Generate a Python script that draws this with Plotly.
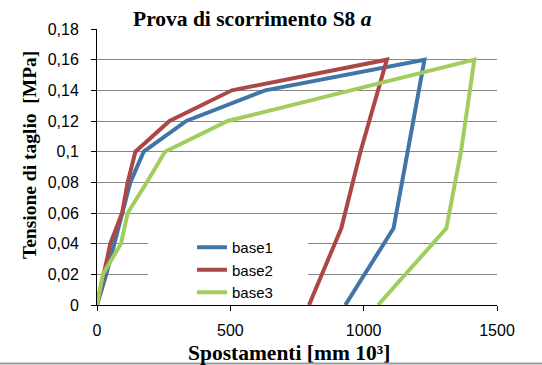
import plotly.graph_objects as go

# ---- data ----
base1_x = [0, 35, 65, 95, 125, 175, 335, 631, 1228, 1165, 1112, 931]
base1_y = [0, 0.02, 0.04, 0.06, 0.08, 0.10, 0.12, 0.14, 0.16, 0.10, 0.05, 0]

base2_x = [0, 25, 50, 94, 115, 144, 272, 506, 1087, 988, 916, 795]
base2_y = [0, 0.02, 0.04, 0.06, 0.08, 0.10, 0.12, 0.14, 0.16, 0.10, 0.05, 0]

base3_x = [0, 22, 90, 115, 187, 255, 490, 1415, 1365, 1310, 1054]
base3_y = [0, 0.02, 0.04, 0.06, 0.08, 0.10, 0.12, 0.16, 0.10, 0.05, 0]

series_names = ["base1", "base2", "base3"]
series_colors = ["#4175A8", "#AB4845", "#A0CD5E"]

x_ticks = [0, 500, 1000, 1500]
x_tick_labels = ["0", "500", "1000", "1500"]
y_ticks = [0, 0.02, 0.04, 0.06, 0.08, 0.10, 0.12, 0.14, 0.16, 0.18]
y_tick_labels = ["0", "0,02", "0,04", "0,06", "0,08", "0,1", "0,12", "0,14", "0,16", "0,18"]

title_text = "Prova di scorrimento S8 <i>a</i>"
x_title = "Spostamenti [mm 10³]"
y_title = "Tensione di taglio  [MPa]"

# ---- figure ----
fig = go.Figure()
for xs, ys, name, col in zip([base1_x, base2_x, base3_x],
                             [base1_y, base2_y, base3_y],
                             series_names, series_colors):
    fig.add_trace(go.Scatter(x=xs, y=ys, mode="lines", name=name,
                             line=dict(color=col, width=4)))

W, H = 542, 365
L, R, T, B = 97, 45, 29, 60
pw, ph = W - L - R, H - T - B

def px_x(p):
    return (p - L) / pw

def px_y(p):
    return (H - B - p) / ph

serif = "Liberation Serif, Times New Roman, serif"
sans = "Liberation Sans, Arial, sans-serif"

fig.update_layout(
    width=W, height=H,
    margin=dict(l=L, r=R, t=T, b=B, pad=0),
    paper_bgcolor="white", plot_bgcolor="white",
    showlegend=True,
    legend=dict(x=px_x(192), y=px_y(231), xanchor="left", yanchor="top",
                bgcolor="rgba(0,0,0,0)", borderwidth=0,
                font=dict(family=sans, size=15, color="black"),
                tracegroupgap=0),
    xaxis=dict(range=[0, 1500], tickvals=x_ticks, ticktext=x_tick_labels,
               showgrid=False, zeroline=False,
               showline=True, linecolor="black", linewidth=1,
               ticks="outside", ticklen=5, tickcolor="black",
               tickfont=dict(family=sans, size=16, color="black"),
               ticklabelstandoff=6, automargin=False),
    yaxis=dict(range=[0, 0.18], tickvals=y_ticks, ticktext=y_tick_labels,
               showgrid=True, gridcolor="#868686", gridwidth=1,
               zeroline=False,
               showline=True, linecolor="black", linewidth=1,
               ticks="outside", ticklen=5, tickcolor="black",
               tickfont=dict(family=sans, size=16, color="black"),
               ticklabelstandoff=9, automargin=False),
    shapes=[
        # white legend background covering grid lines
        dict(type="rect", xref="paper", yref="paper",
             x0=px_x(148), x1=px_x(308), y0=px_y(302), y1=px_y(232),
             fillcolor="white", line=dict(width=0), layer="above"),
        # bottom border line
        dict(type="line", xref="paper", yref="paper",
             x0=px_x(0), x1=px_x(542), y0=px_y(363.5), y1=px_y(363.5),
             line=dict(color="#9a9a9a", width=2)),
    ],
    annotations=[
        dict(text="<b>" + title_text + "</b>", xref="paper", yref="paper",
             x=px_x(252), y=px_y(19), xanchor="center", yanchor="middle",
             showarrow=False, font=dict(family=serif, size=21.5, color="black")),
        dict(text="<b>" + x_title + "</b>", xref="paper", yref="paper",
             x=px_x(289), y=px_y(353), xanchor="center", yanchor="middle",
             showarrow=False, font=dict(family=serif, size=21.5, color="black")),
        dict(text="<b>" + y_title + "</b>", xref="paper", yref="paper",
             x=px_x(29), y=px_y(155), xanchor="center", yanchor="middle",
             textangle=-90,
             showarrow=False, font=dict(family=serif, size=19.5, color="black")),
    ],
)

fig.write_html("out.html", config={"displayModeBar": False},
               post_script="document.body.style.margin='0';document.body.style.overflow='hidden';")
